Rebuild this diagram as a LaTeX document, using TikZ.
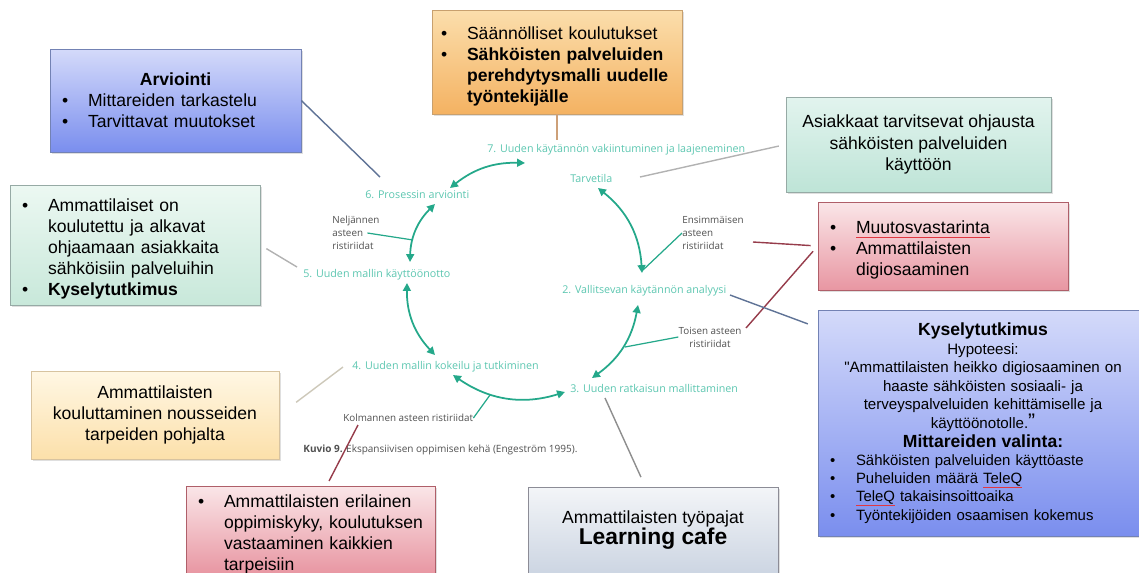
\documentclass[tikz,border=0pt]{standalone}
\usepackage{fontspec}
\setmainfont{Liberation Sans}
\newfontfamily\kehafont{Open Sans}
\newfontfamily\suorafont{Liberation Sans}
\usepackage{tikz}
\usetikzlibrary{arrows.meta,shadows}
\definecolor{kehateal}{RGB}{36,168,138}
\definecolor{kehatext}{RGB}{92,198,176}
\definecolor{ristigray}{RGB}{80,80,80}
\definecolor{spellred}{RGB}{225,55,65}
\definecolor{linkslate}{RGB}{95,115,150}
\definecolor{linkred}{RGB}{150,60,75}
\definecolor{linkgray}{RGB}{178,178,178}
\definecolor{linkorange}{RGB}{205,160,120}
\definecolor{linksand}{RGB}{205,200,185}
\newcommand{\bitem}[1]{\par\begingroup\let\\\newline\hangindent=0.52cm\hangafter=1\noindent\makebox[0.52cm][l]{\textbullet}#1\par\endgroup}
\newsavebox{\spellbox}
\newcommand{\spellmark}[1]{\leavevmode\sbox{\spellbox}{#1}\rlap{\textcolor{spellred}{\rule[-0.5ex]{\wd\spellbox}{0.5pt}}}\usebox{\spellbox}}

\begin{document}
\begin{tikzpicture}[x=0.02cm,y=-0.02cm,>={Triangle[length=4.5pt,width=4.5pt]}]
  \tikzstyle{box}=[draw, inner xsep=0.24cm, inner ysep=0pt, font=\fontsize{10}{12}\selectfont,
drop shadow={shadow xshift=1.2pt,shadow yshift=-1.2pt,opacity=0.25}]
  \tikzstyle{bluebox}=[top color={rgb,255:red,212;green,218;blue,250}, bottom color={rgb,255:red,122;green,142;blue,238}, draw={rgb,255:red,115;green,130;blue,180}]
  \tikzstyle{orangebox}=[top color={rgb,255:red,251;green,222;blue,172}, bottom color={rgb,255:red,244;green,178;blue,98}, draw={rgb,255:red,200;green,160;blue,110}]
  \tikzstyle{greenbox}=[top color={rgb,255:red,236;green,248;blue,242}, bottom color={rgb,255:red,200;green,232;blue,218}, draw={rgb,255:red,150;green,170;blue,165}]
  \tikzstyle{tealbox}=[top color={rgb,255:red,226;green,244;blue,238}, bottom color={rgb,255:red,190;green,228;blue,215}, draw={rgb,255:red,150;green,170;blue,165}]
  \tikzstyle{redbox}=[top color={rgb,255:red,250;green,230;blue,232}, bottom color={rgb,255:red,232;green,150;blue,162}, draw={rgb,255:red,175;green,95;blue,105}]
  \tikzstyle{sandbox}=[top color={rgb,255:red,255;green,247;blue,228}, bottom color={rgb,255:red,252;green,224;blue,170}, draw={rgb,255:red,215;green,195;blue,160}]
  \tikzstyle{graybox}=[top color={rgb,255:red,243;green,245;blue,248}, bottom color={rgb,255:red,204;green,213;blue,226}, draw={rgb,255:red,140;green,140;blue,150}]
  \tikzstyle{stage}=[text=kehatext, font=\kehafont\fontsize{6.1}{7}\selectfont, inner sep=0pt, anchor=west]
  \tikzstyle{risti}=[text=ristigray, font=\kehafont\fontsize{5.6}{7.4}\selectfont, inner sep=0pt, align=left]
  \tikzstyle{kaari}=[<->, kehateal, line width=1pt]
  \tikzstyle{ristiline}=[kehateal, line width=0.7pt]
  \tikzstyle{link}=[line width=0.8pt]

  \useasboundingbox (0,0) rectangle (1139,572);

  % boxes
  \node[box, bluebox, minimum width=5.02cm, minimum height=2.06cm, text width=4.54cm] (B_arvio) at (175.5,100.5)
    {\centerline{\textbf{Arviointi}}\bitem{Mittareiden tarkastelu}\bitem{Tarvittavat muutokset}};
  \node[box, orangebox, inner xsep=0.18cm, minimum width=5cm, minimum height=2.08cm, text width=4.64cm] (B_koulutus) at (557,62)
    {\bitem{Säännölliset koulutukset}\bitem{\textbf{Sähköisten palveluiden\\perehdytysmalli uudelle\\työntekijälle}}};
  \node[box, tealbox, minimum width=5.3cm, minimum height=1.9cm, align=center] (B_tarve) at (918.5,144.5)
    {Asiakkaat tarvitsevat ohjausta\\sähköisten palveluiden\\käyttöön};
  \node[box, redbox, minimum width=5cm, minimum height=1.76cm, text width=4.52cm] (B_muutos) at (943,246)
    {\bitem{\spellmark{Muutosvastarinta}}\bitem{Ammattilaisten\\digiosaaminen}};
  \node[box, bluebox, minimum width=6.6cm, minimum height=4.52cm, text width=6.12cm,
font=\fontsize{8.6}{10.6}\selectfont] (B_kysely) at (983,423)
    {\centering{\fontsize{10}{11}\selectfont\bfseries Kyselytutkimus\\}Hypoteesi:\\
     {\suorafont"}Ammattilaisten heikko digiosaaminen on\\haaste sähköisten sosiaali- ja\\terveyspalveluiden kehittämiselle ja\\käyttöönotolle.{\large ”}\\
     {\fontsize{10}{12.5}\selectfont\bfseries Mittareiden valinta:}\par
     \raggedright\fontsize{8.5}{10.4}\selectfont
     \bitem{Sähköisten palveluiden käyttöaste}\bitem{Puheluiden määrä \spellmark{TeleQ}}\bitem{\spellmark{TeleQ} takaisinsoittoaika}\bitem{Työntekijöiden osaamisen kokemus}};
  \node[box, greenbox, minimum width=5cm, minimum height=2.4cm, text width=4.52cm] (B_ohjaus) at (135,245)
    {\bitem{Ammattilaiset on\\koulutettu ja alkavat\\ohjaamaan asiakkaita\\sähköisiin palveluihin}\bitem{\textbf{Kyselytutkimus}}};
  \node[box, sandbox, minimum width=4.96cm, minimum height=1.76cm, align=center] (B_tarpeet) at (155,415)
    {Ammattilaisten\\kouluttaminen nousseiden\\tarpeiden pohjalta};
  \node[box, redbox, minimum width=4.98cm, minimum height=1.76cm, text width=4.5cm] (B_oppimis) at (310.5,530)
    {\bitem{Ammattilaisten erilainen\\oppimiskyky, koulutuksen\\vastaaminen kaikkien\\tarpeisiin}};
  \node[box, graybox, minimum width=5cm, minimum height=1.74cm, align=center] (B_cafe) at (653,530.5)
    {Ammattilaisten työpajat\\{\fontsize{13}{15}\selectfont\bfseries Learning cafe}};

  % stages of the cycle
  \node[stage] (S_7) at (487,150) {7. Uuden käytännön vakiintuminen ja laajeneminen};
  \node[stage] (S_1) at (570,178) {Tarvetila};
  \node[stage] (S_6) at (365,195) {6. Prosessin arviointi};
  \node[stage] (S_5) at (303,275) {5. Uuden mallin käyttöönotto};
  \node[stage] (S_2) at (562,291) {2. Vallitsevan käytännön analyysi};
  \node[stage] (S_4) at (352,367) {4. Uuden mallin kokeilu ja tutkiminen};
  \node[stage] (S_3) at (570,388) {3. Uuden ratkaisun mallittaminen};

  \node[risti, anchor=west] (R_4) at (332,233) {Neljännen\\asteen\\ristiriidat};
  \node[risti, anchor=west] (R_1) at (682,233) {Ensimmäisen\\asteen\\ristiriidat};
  \node[risti, align=center] (R_2) at (710,337) {Toisen asteen\\ristiriidat};
  \node[risti, anchor=west] (R_3) at (343,418) {Kolmannen asteen ristiriidat};
  \node[risti, anchor=west, font=\kehafont\fontsize{5.7}{7}\selectfont] (K_9) at (303,450)
    {\textbf{Kuvio 9.} Ekspansiivisen oppimisen kehä (Engeström 1995).};

  % arrow ends
  \coordinate (P_7) at (525,163);  \coordinate (P_6u) at (450,188);
  \coordinate (P_6d) at (435,204); \coordinate (P_5u) at (410,262);
  \coordinate (P_5d) at (407,283); \coordinate (P_4u) at (435,355);
  \coordinate (P_4r) at (453,375); \coordinate (P_3l) at (565,392);
  \coordinate (P_3u) at (592,378); \coordinate (P_2d) at (638,305);
  \coordinate (P_2u) at (642,273); \coordinate (P_1) at (598,188);

  \draw[kaari] (P_7) to[bend right=20] (P_6u);
  \draw[kaari] (P_6d) to[bend right=22] (P_5u);
  \draw[kaari] (P_5d) to[bend right=22] (P_4u);
  \draw[kaari] (P_4r) to[bend right=26] (P_3l);
  \draw[kaari] (P_3u) to[bend right=22] (P_2d);
  \draw[kaari] (P_2u) to[bend right=24] (P_1);

  \coordinate (M_65) at (413,240);
  \coordinate (M_21) at (643,270);
  \coordinate (M_32) at (625,347);
  \coordinate (M_43) at (490,395);
  \draw[ristiline] ([xshift=-7pt]R_4.east) -- (M_65);
  \draw[ristiline] (R_1.west) -- (M_21);
  \draw[ristiline] (R_2.west) -- (M_32);
  \draw[ristiline] (R_3.east) -- (M_43);

  % links from boxes
  \coordinate (Q_6) at (380,177);  \coordinate (Q_7) at (557,140);
  \coordinate (Q_1) at (640,177);  \coordinate (Q_r1) at (753,242);
  \coordinate (Q_r2) at (746,328); \coordinate (Q_2) at (730,295);
  \coordinate (Q_5) at (297,267);  \coordinate (Q_4) at (343,367);
  \coordinate (Q_r3) at (358,425); \coordinate (Q_3) at (605,398);

  \draw[link, linkslate] (B_arvio.east) -- (Q_6);
  \draw[link, linkorange] (B_koulutus.south) -- (Q_7);
  \draw[link, linkgray, shorten <=4pt] (B_tarve.west) -- (Q_1);
  \draw[link, linkred, shorten <=4pt] (B_muutos.west) -- (Q_r1);
  \draw[link, linkred, shorten <=4pt] (B_muutos.west) -- (Q_r2);
  \draw[link, linkslate, shorten <=6pt] (B_kysely.150) -- (Q_2);
  \draw[link, linkgray, shorten <=4pt] (B_ohjaus.east) -- (Q_5);
  \draw[link, linksand, shorten <=12pt] (B_tarpeet.east) -- (Q_4);
  \draw[link, linkred, shorten <=3pt] (B_oppimis.70) -- (Q_r3);
  \draw[link, linkgray!80!black, shorten <=6pt] (B_cafe.100) -- (Q_3);
\end{tikzpicture}
\end{document}
